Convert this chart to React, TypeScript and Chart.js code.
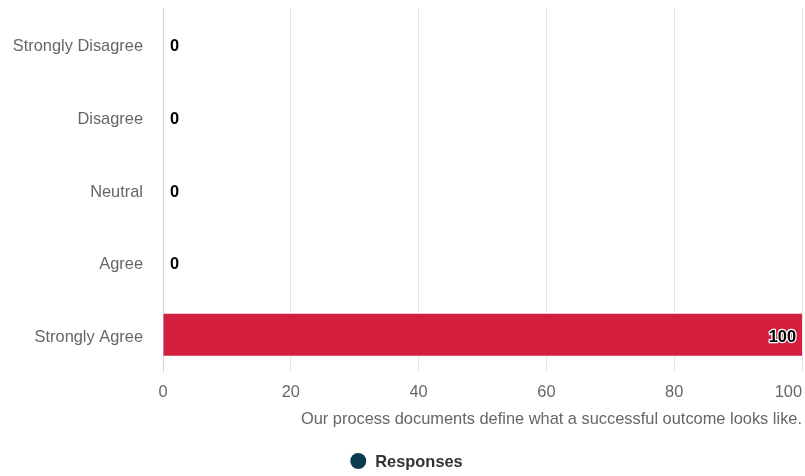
import React, { useEffect, useRef } from "react";
import { Chart, registerables } from "chart.js";

Chart.register(...registerables);

const categories = ["Strongly Disagree", "Disagree", "Neutral", "Agree", "Strongly Agree"];
const responses = [0, 0, 0, 0, 100];
const seriesName = "Responses";
const axisTitle = "Our process documents define what a successful outcome looks like.";
const xTicks = [0, 20, 40, 60, 80, 100];

const FONT = "'Liberation Sans', Arial, Helvetica, sans-serif";
const FS = 16.4;
const BAR_COLOR = "#d31f3d";
const LEGEND_COLOR = "#0b3d4f";

const overlayPlugin = {
  id: "overlay",
  afterDatasetsDraw(chart: any) {
    const ctx = chart.ctx;
    const meta = chart.getDatasetMeta(0);
    const area = chart.chartArea;
    ctx.save();
    ctx.font = `bold ${FS}px ${FONT}`;
    ctx.textBaseline = "middle";
    ctx.lineJoin = "round";
    meta.data.forEach((bar: any, i: number) => {
      const v = responses[i];
      const text = String(v);
      const w = ctx.measureText(text).width;
      let x: number;
      if (bar.x + 7 + w > area.right) {
        ctx.textAlign = "right";
        x = bar.x - 6;
      } else {
        ctx.textAlign = "left";
        x = bar.x + 7;
      }
      ctx.strokeStyle = "#ffffff";
      ctx.lineWidth = 2.5;
      ctx.strokeText(text, x, bar.y + 2.5);
      ctx.fillStyle = "#000000";
      ctx.fillText(text, x, bar.y + 2.5);
    });
    ctx.restore();
  },
  afterDraw(chart: any) {
    const ctx = chart.ctx;
    const area = chart.chartArea;
    const xs = chart.scales.x;
    ctx.save();
    // x tick labels
    ctx.font = `${FS}px ${FONT}`;
    ctx.fillStyle = "#666666";
    ctx.textBaseline = "middle";
    ctx.textAlign = "center";
    xTicks.forEach((v) => {
      const t = String(v);
      const w = ctx.measureText(t).width;
      let cx = xs.getPixelForValue(v);
      if (cx + w / 2 > chart.width - 3) cx = chart.width - 3 - w / 2;
      ctx.fillText(t, cx, 392);
    });
    // axis title
    ctx.textAlign = "right";
    ctx.fillText(axisTitle, area.right, 419);
    // legend
    ctx.font = `bold ${FS}px ${FONT}`;
    const tw = ctx.measureText(seriesName).width;
    const total = 16 + 9 + tw;
    const cx = chart.width / 2 + 4;
    const startX = cx - total / 2;
    ctx.fillStyle = LEGEND_COLOR;
    ctx.beginPath();
    ctx.arc(startX + 8, 461, 8, 0, Math.PI * 2);
    ctx.fill();
    ctx.fillStyle = "#333333";
    ctx.textAlign = "left";
    ctx.fillText(seriesName, startX + 25, 462);
    ctx.restore();
  },
};

export default function App() {
  const ref = useRef<HTMLCanvasElement>(null);
  useEffect(() => {
    document.body.style.margin = "0";
    const chart = new Chart(ref.current!, {
      type: "bar",
      data: {
        labels: categories,
        datasets: [
          {
            label: seriesName,
            data: responses,
            backgroundColor: BAR_COLOR,
            borderWidth: 0,
            categoryPercentage: 1,
            barPercentage: 0.58,
          },
        ],
      },
      plugins: [overlayPlugin],
      options: {
        indexAxis: "y",
        animation: false,
        responsive: false,
        maintainAspectRatio: false,
        layout: { padding: { top: 8, right: 3, left: 0, bottom: 0 } },
        plugins: {
          legend: { display: false },
          tooltip: { enabled: false },
        },
        scales: {
          x: {
            min: 0,
            max: 100,
            afterBuildTicks: (s: any) => {
              s.ticks = xTicks.map((v) => ({ value: v }));
            },
            afterFit: (s: any) => {
              s.height = 105;
              s.paddingLeft = 0;
              s.paddingRight = 0;
              s.paddingTop = 0;
              s.paddingBottom = 0;
            },
            grid: { color: "#e6e6e6", drawTicks: false, lineWidth: 1 },
            border: { display: false },
            ticks: { display: false },
          },
          y: {
            afterFit: (s: any) => {
              s.width = 163;
              s.paddingLeft = 0;
              s.paddingRight = 0;
              s.paddingTop = 0;
              s.paddingBottom = 0;
            },
            grid: { display: false, drawTicks: false },
            border: { display: true, color: "#ccd6eb", width: 1 },
            ticks: {
              color: "#666666",
              font: { family: FONT, size: FS },
              padding: 20,
              labelOffset: 2.5,
            },
          },
        },
      },
    });
    return () => chart.destroy();
  }, []);
  return (
    <div style={{ width: 805, height: 476 }}>
      <canvas ref={ref} width={805} height={476} style={{ width: 805, height: 476 }} />
    </div>
  );
}
